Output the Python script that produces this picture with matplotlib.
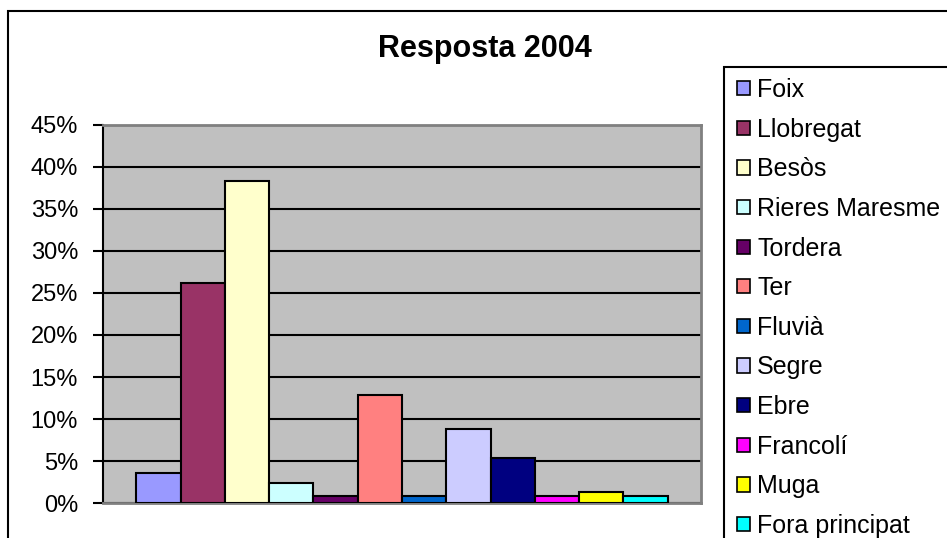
import matplotlib
matplotlib.use("Agg")
import matplotlib.pyplot as plt
from matplotlib.patches import Patch, Rectangle
from matplotlib.ticker import FuncFormatter, MultipleLocator

plt.rcParams['font.family'] = ['Liberation Sans', 'DejaVu Sans']

title = "Resposta 2004"
series = ["Foix", "Llobregat", "Besòs", "Rieres Maresme", "Tordera", "Ter",
          "Fluvià", "Segre", "Ebre", "Francolí", "Muga", "Fora principat"]
values = [3.6, 26.2, 38.3, 2.4, 0.8, 12.9, 0.8, 8.8, 5.3, 0.8, 1.3, 0.8]  # percent
colors = ["#9999FF", "#993366", "#FFFFCC", "#CCFFFF", "#660066", "#FF8080",
          "#0066CC", "#CCCCFF", "#000080", "#FF00FF", "#FFFF00", "#00FFFF"]

W, H = 947, 538
fig = plt.figure(figsize=(W / 100, H / 100), dpi=100)

# outer chart border
fig.patches.append(Rectangle((8 / W, -0.1), 1.2, 1 - 11 / H + 0.1,
                             transform=fig.transFigure, fill=False,
                             edgecolor="black", linewidth=1.5))

ax = fig.add_axes([103 / W, (H - 503) / H, 598 / W, 378 / H])
ax.set_facecolor("#C0C0C0")

n = len(series)
handles = []
for i, (name, v, c) in enumerate(zip(series, values, colors)):
    x = i - (n - 1) / 2
    ax.bar(x, v, width=1.0, color=c, edgecolor="black", linewidth=1.5,
           zorder=3, label=name)
    handles.append(Patch(facecolor=c, edgecolor="black", linewidth=1.2, label=name))

ax.set_xlim(-n / 2 - 0.75, n / 2 + 0.75)
ax.set_ylim(0, 45)
ax.yaxis.set_major_locator(MultipleLocator(5))
ax.yaxis.set_major_formatter(FuncFormatter(lambda v, p: f"{int(round(v))}%"))
ax.yaxis.grid(True, color="black", linewidth=1.5, zorder=0)
ax.set_axisbelow(True)
ax.set_xticks([])
ax.tick_params(axis="y", direction="out", length=7, width=1.5, pad=11,
               labelsize=17, colors="black")
for s in ["top", "right", "bottom"]:
    ax.spines[s].set_color("#808080")
    ax.spines[s].set_linewidth(2)
ax.spines["left"].set_color("black")
ax.spines["left"].set_linewidth(1.5)

fig.text(485 / W, 1 - 49 / H, title, ha="center", va="center",
         fontsize=22, fontweight="bold")

# legend frame
fig.patches.append(Rectangle((724 / W, -0.1), 1.0, 1 - 67 / H + 0.1,
                             transform=fig.transFigure, fill=False,
                             edgecolor="black", linewidth=1.5))
leg = fig.legend(handles=handles, loc="upper left",
                 bbox_to_anchor=(737 / W, 1 - 78 / H), frameon=False,
                 fontsize=18, borderpad=0, borderaxespad=0,
                 handlelength=0.5, handleheight=0.5, handletextpad=0.3,
                 labelspacing=0.625)

fig.savefig("out.png", dpi=100)
